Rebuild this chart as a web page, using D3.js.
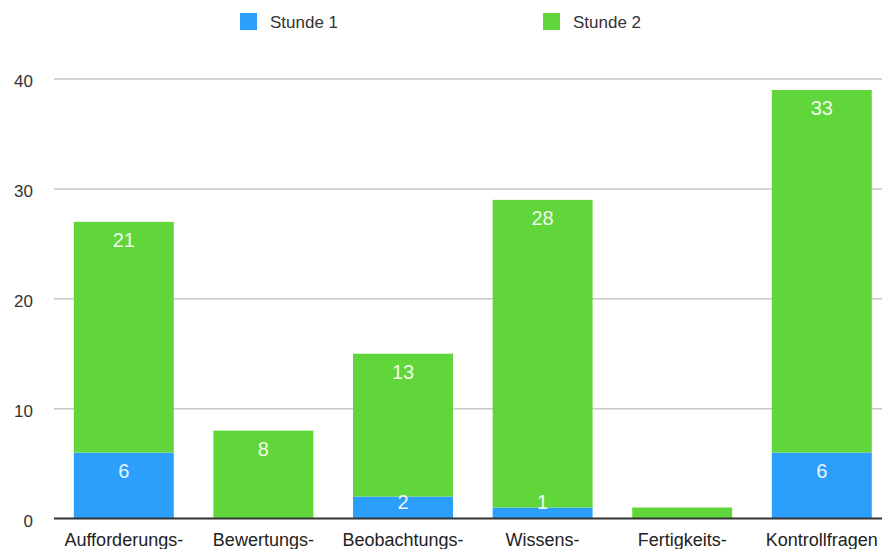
<!DOCTYPE html>
<html>
<head>
<meta charset="utf-8">
<script src="https://cdn.jsdelivr.net/npm/d3@7"></script>
<style>
  body { margin: 0; background: #fff; }
  svg { display: block; font-family: "Liberation Sans", Arial, sans-serif; }
</style>
</head>
<body>
<script>
const categories = ["Aufforderungs-", "Bewertungs-", "Beobachtungs-", "Wissens-", "Fertigkeits-", "Kontrollfragen"];
const stunde1 = [6, 0, 2, 1, 0, 6];
const stunde2 = [21, 8, 13, 28, 1, 33];
const seriesNames = ["Stunde 1", "Stunde 2"];
const yTicks = [0, 10, 20, 30, 40];
const hiddenLabels = ["Fertigkeits-"];

const width = 882, height = 549;
const colors = ["#2c9ffc", "#60d63a"];

const svg = d3.select("body").append("svg")
  .attr("width", width)
  .attr("height", height);

const x = d3.scaleBand()
  .domain(categories)
  .range([54, 891.6])
  .paddingInner(0.284)
  .paddingOuter(0.142);

const y = d3.scaleLinear()
  .domain([0, 40])
  .range([518.5, 79]);

// gridlines
svg.append("g")
  .selectAll("line")
  .data(yTicks.filter(d => d > 0))
  .join("line")
  .attr("x1", 54).attr("x2", width)
  .attr("y1", d => y(d)).attr("y2", d => y(d))
  .attr("stroke", "#c8c8c8")
  .attr("stroke-width", 1.5);

// y tick labels
svg.append("g")
  .selectAll("text")
  .data(yTicks)
  .join("text")
  .attr("x", 33)
  .attr("y", d => y(d) + 8)
  .attr("text-anchor", "end")
  .attr("font-size", 17)
  .attr("fill", "#333")
  .text(d => d);

// stack
const table = categories.map((c, i) => ({ cat: c, s1: stunde1[i], s2: stunde2[i] }));
const stack = d3.stack().keys(["s1", "s2"])(table);

const layers = svg.append("g")
  .selectAll("g")
  .data(stack)
  .join("g")
  .attr("fill", (d, i) => colors[i]);

layers.selectAll("rect")
  .data(d => d.filter(p => p[1] - p[0] > 0))
  .join("rect")
  .attr("x", d => x(d.data.cat))
  .attr("width", x.bandwidth())
  .attr("y", d => y(d[1]))
  .attr("height", d => y(d[0]) - y(d[1]));

// value labels, drawn above all bars
const segments = stack.flat().filter(p => p[1] - p[0] > 0 && !hiddenLabels.includes(p.data.cat));
svg.append("g")
  .selectAll("text")
  .data(segments)
  .join("text")
  .attr("x", d => x(d.data.cat) + x.bandwidth() / 2)
  .attr("y", d => Math.min(y(d[1]) + 25, y(d[0]) - 10))
  .attr("text-anchor", "middle")
  .attr("font-size", 20)
  .attr("fill", "#fff")
  .attr("fill-opacity", 0.92)
  .text(d => d[1] - d[0]);

// zero axis line
svg.append("line")
  .attr("x1", 54).attr("x2", width)
  .attr("y1", y(0)).attr("y2", y(0))
  .attr("stroke", "#333")
  .attr("stroke-width", 2);

// category labels
svg.append("g")
  .selectAll("text")
  .data(categories)
  .join("text")
  .attr("x", d => x(d) + x.bandwidth() / 2)
  .attr("y", 546)
  .attr("text-anchor", "middle")
  .attr("font-size", 18)
  .attr("fill", "#222")
  .text(d => d);

// legend
const legend = svg.append("g")
  .selectAll("g")
  .data(seriesNames)
  .join("g")
  .attr("transform", (d, i) => `translate(${240 + i * 303},13)`);

legend.append("rect")
  .attr("width", 17)
  .attr("height", 17)
  .attr("fill", (d, i) => colors[i]);

legend.append("text")
  .attr("x", 30)
  .attr("y", 15)
  .attr("font-size", 17)
  .attr("fill", "#333")
  .text(d => d);
</script>
</body>
</html>
